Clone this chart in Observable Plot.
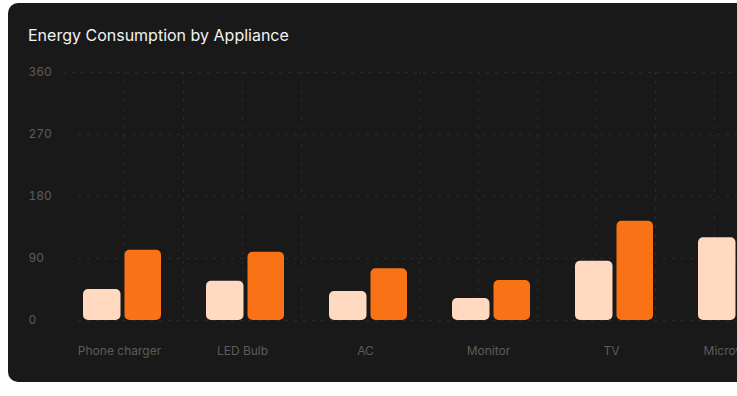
<!DOCTYPE html>
<html><head><meta charset="utf-8">
<script src="https://cdn.jsdelivr.net/npm/d3@7"></script>
<script src="https://cdn.jsdelivr.net/npm/@observablehq/plot@0.6"></script>
<style>
html,body{margin:0;padding:0;background:#fff;overflow:hidden;width:737px;height:396px}
body{font-family:Inter, "Noto Sans", sans-serif}
#card{position:absolute;left:8px;top:3px;width:830px;height:379px;background:#191919;border-radius:10px;overflow:hidden}
#title{position:absolute;left:20px;top:23px;color:#f2f2f2;font-size:16px;line-height:19px;white-space:nowrap}
#chart{position:absolute;left:20px;top:52px}
</style>
</head><body>
<div id="card"><div id="title">Energy Consumption by Appliance</div><div id="chart"></div></div>
<script>
const appliances = ["Phone charger", "LED Bulb", "AC", "Monitor", "TV", "Microwave"];
const seriesA = [45, 57, 42, 32, 86, 120];
const seriesB = [102, 99, 75, 58, 144, 165];
const yTicks = [0, 90, 180, 270, 360];

const data = appliances.map((a, i) => ({appliance: a, a: seriesA[i], b: seriesB[i]}));

const gridColor = "#2a2a2a";
const plot = Plot.plot({
  width: 752, height: 310,
  marginLeft: 50, marginRight: 0, marginTop: 17, marginBottom: 45,
  style: {background: "transparent", color: "#5c5c5c", fontFamily: "Inter, sans-serif", fontSize: "12px"},
  x: {domain: appliances, paddingInner: 0.366, paddingOuter: 0.0366, label: null},
  y: {domain: [0, 360], ticks: yTicks, label: null},
  marks: [
    Plot.ruleY(yTicks.slice(0, -1), {stroke: gridColor, strokeDasharray: "3 6"}),
    Plot.ruleY(yTicks.slice(-1), {stroke: gridColor, strokeDasharray: "3 6", insetLeft: -15}),
    Plot.barY(data, {x: "appliance", y: "a", fill: "#FFDAC1", rx: 5, insetRight: 40.5}),
    Plot.barY(data, {x: "appliance", y: "b", fill: "#F97316", rx: 5, insetLeft: 41.5}),
    Plot.axisX({tickSize: 0, tickPadding: 26, dx: -3, fill: "#5c5c5c", fontSize: 12, label: null}),
    Plot.axisY({ticks: yTicks, tickSize: 0, tickPadding: 50, textAnchor: "start", fill: "#5c5c5c", fontSize: 12, label: null})
  ]
});
document.getElementById("chart").append(plot);

// decorative vertical dashed grid behind the bars
const ys = plot.scale("y");
const gridStep = 59, gridStart = 50 + 46.5;
const vx = d3.range(12).filter(k => k !== 4).map(k => gridStart + k * gridStep);
d3.select(plot).insert("g", "g")
  .attr("stroke", gridColor).attr("stroke-dasharray", "3 6")
  .selectAll("line").data(vx).join("line")
  .attr("x1", d => d).attr("x2", d => d)
  .attr("y1", ys.apply(360)).attr("y2", ys.apply(0));
</script>
</body></html>
